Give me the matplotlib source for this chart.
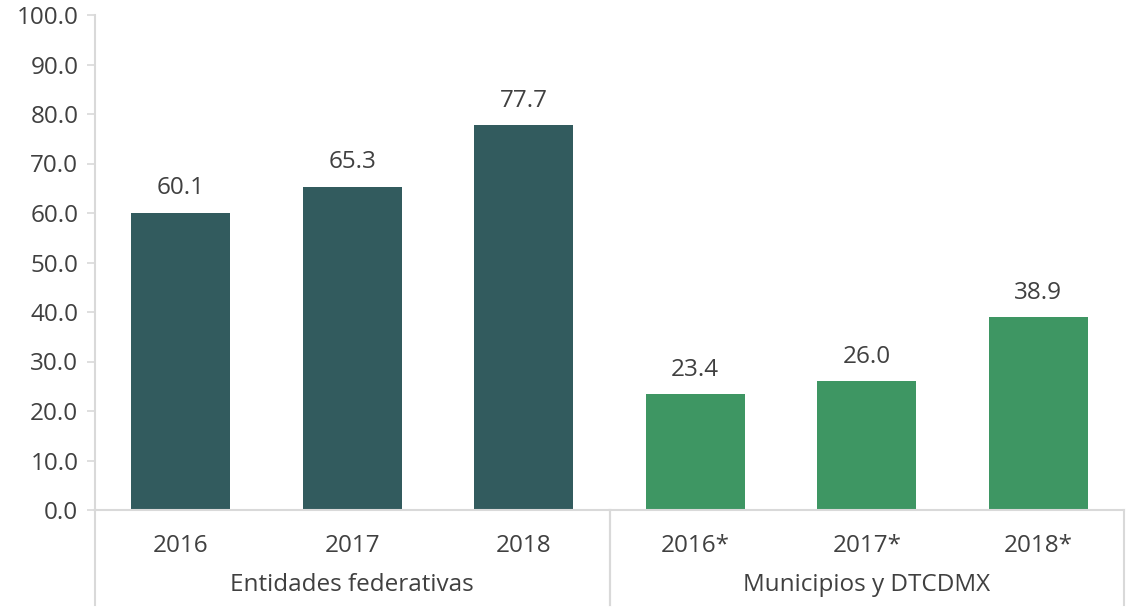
import matplotlib
matplotlib.use("Agg")
import matplotlib.pyplot as plt
import matplotlib.transforms as mtransforms

years = ["2016", "2017", "2018", "2016*", "2017*", "2018*"]
values = [60.1, 65.3, 77.7, 23.4, 26.0, 38.9]
groups = ["Entidades federativas", "Municipios y DTCDMX"]
group_size = 3

DARK = "#325B5E"
GREEN = "#3E9663"
GRID = "#D9D9D9"
TEXT = "#404040"
FS = 17.5

plt.rcParams["font.family"] = ["Open Sans", "DejaVu Sans"]

W, H = 1126, 607
fig = plt.figure(figsize=(W / 100, H / 100), dpi=100)
ax = fig.add_axes([95 / W, (H - 510) / H, (1124 - 95) / W, (510 - 15) / H])

x = list(range(len(values)))
colors = [DARK] * group_size + [GREEN] * group_size
ax.bar(x, values, width=0.58, color=colors, zorder=2)

for xi, v in zip(x, values):
    ax.annotate(f"{v:.1f}", (xi, v), xytext=(0, 9), textcoords="offset points",
                ha="center", va="bottom", fontsize=FS, color=TEXT)

ax.set_xlim(-0.5, len(values) - 0.5)
ax.set_ylim(0, 100)
ax.set_yticks(range(0, 101, 10))
ax.set_yticklabels([f"{t:.1f}" for t in range(0, 101, 10)], fontsize=FS, color=TEXT)
ax.tick_params(axis="y", length=6, color=GRID, width=1.2, pad=6)

ax.set_xticks(x)
ax.set_xticklabels(years, fontsize=FS, color=TEXT)
ax.tick_params(axis="x", length=0, pad=17)

for s in ["top", "right"]:
    ax.spines[s].set_visible(False)
for s in ["left", "bottom"]:
    ax.spines[s].set_color(GRID)
    ax.spines[s].set_linewidth(1.5)

# group labels and separators below the axis
trans = mtransforms.blended_transform_factory(ax.transData, ax.transAxes)
sep_bottom = -(605 - 510) / (510 - 15)
for i, g in enumerate(groups):
    start = i * group_size - 0.5
    end = start + group_size
    ax.text((start + end) / 2, -(585 - 510) / (510 - 15), g, transform=trans,
            ha="center", va="center", fontsize=FS, color=TEXT)
    for xs in (start, end):
        ax.plot([xs, xs], [0, sep_bottom], transform=trans, color=GRID,
                linewidth=1.5, clip_on=False)

fig.savefig("out.png", dpi=100)
